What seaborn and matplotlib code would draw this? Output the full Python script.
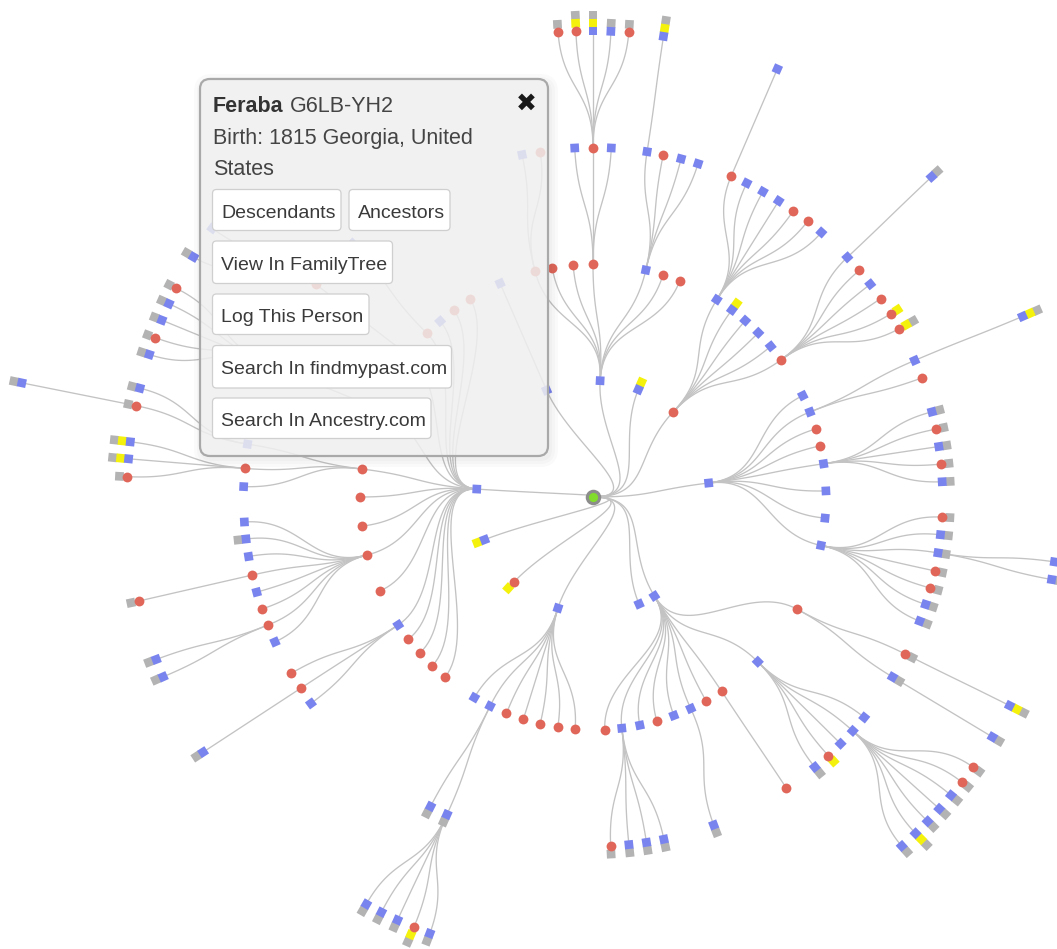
import numpy as np
import pandas as pd
import seaborn as sns
import matplotlib.pyplot as plt
from matplotlib.patches import FancyBboxPatch

# descendants tree, one entry per family (parent -> its children)
# angle: degrees clockwise from east as seen on screen, sex: m/f,
# stub: extra small boxes drawn outward from a node (g = gray, y = yellow, - = none)
fam_parent = ["r", "A", "A1", "A4", "A4b", "A5", "A5a",
              "B", "B1", "B1a", "B6", "B6a",
              "C", "C2", "C2a", "C5", "C8", "C8c",
              "D", "D2", "D6", "D8", "D9", "D9b", "D10", "D10a", "D10b",
              "E", "E2", "E2b",
              "G", "G1", "G1a", "G1a2", "G1b", "Gh1", "Gh1a", "Gh2", "Gh2a", "G11",
              "G4", "G4d", "G4g", "G6", "G6b", "H"]
fam_kids = ["A . B C D . E . . G H", "A1 . . A4 A5 . .", ". .", ". A4b .", ". . . . .", "A5a . . .", ".",
            "B1 . . . . B6", "B1a . . . . . .", ".", "B6a . . . . .", ".",
            ". C2 . . C5 . . C8", "C2a .", ".", ". . . . .", ". . C8c . . . .", ". .",
            ". D2 . . . D6 . D8 D9 D10", ". . . .", ".", ".", ". D9b . . .", ". . . . . . .",
            "D10a D10b", ".", ".",
            ". E2 . . . . .", ". E2b", ". . . . .",
            "G1 . . G4 . G6 . . . . Gh1 Gh2 G11 . . .", "G1a G1b .", ". G1a2", ".", ". . .",
            "Gh1a", ". . . . .", "Gh2a", ". .", ".",
            ". . . G4d . . G4g .", ".", ". .", ". G6b .", ".", "."]
fam_angle = [[-86.5, -67.1, -46.7, -6.9, 58.2, 66.7, 107.5, 132.9, 158.5, -176.1, -113.5],
             [-104.4, -100.1, -94.9, -90.0, -76.9, -72.5, -68.1], [-101.7, -98.7],
             [-93.0, -90.0, -87.0], [-94.3, -92.1, -90.0, -87.8, -85.6],
             [-81.1, -78.4, -75.4, -72.5], [-81.3],
             [-57.9, -53.4, -49.2, -44.8, -40.3, -36.1],
             [-66.7, -63.9, -60.9, -57.9, -55.0, -52.1, -49.2], [-66.7],
             [-43.3, -40.4, -37.5, -34.6, -31.6, -28.8], [-43.4],
             [-25.8, -21.4, -17.0, -12.7, -8.2, -1.5, 5.2, 12.0], [-23.0, -19.9], [-22.8],
             [-14.1, -11.2, -8.3, -5.4, -2.5], [3.3, 6.2, 9.2, 12.2, 15.1, 17.9, 20.8], [8.0, 10.2],
             [87.1, 82.9, 78.4, 74.1, 69.7, 65.2, 61.0, 56.5, 45.0, 28.8],
             [87.1, 84.1, 81.2, 78.3], [69.8], [56.4], [39.1, 42.0, 44.9, 47.7, 50.6],
             [35.4, 37.7, 39.8, 42.0, 44.1, 46.2, 48.5], [26.7, 31.0], [26.6], [31.0],
             [120.6, 116.2, 111.8, 107.4, 103.1, 98.7, 94.4], [117.7, 114.7],
             [119.1, 117.0, 114.8, 112.6, 110.5],
             [-173.1, 180.0, 172.8, 165.6, 156.2, 146.7, 142.4, 138.0, 133.6, 129.4,
              -157.7, -142.5, -135.4, -131.0, -126.7, -121.8],
             [-171.3, -175.3, -178.3], [-166.5, -168.7], [-168.7], [-173.2, -175.3, -177.5],
             [-157.7], [-153.4, -155.5, -157.7, -160.0, -162.2], [-142.5], [-149.0, -144.8], [-133.5],
             [175.9, 173.1, 170.2, 167.1, 164.2, 161.3, 158.5, 155.5], [167.1], [159.6, 157.3],
             [149.7, 146.8, 143.8], [146.8], [-113.5]]
fam_sex = ["mmfmmmmfmmm", "ffffmff", "mf", "mfm", "ffmmf", "mfmm", "m",
           "mmmmmf", "fmmmffm", "m", "mfmfff", "m",
           "mmffmmmm", "mf", "m", "mfmfm", "fmmffmm", "mm",
           "fmmfmmffmf", "fmmm", "m", "f", "mmmfm", "ffmmmmm", "fm", "m", "m",
           "mmfffff", "mm", "mmmfm",
           "fffffmffffmmfmff", "mfm", "mf", "m", "mmf", "m", "fmmfm", "f", "mm", "m",
           "mmmfmffm", "f", "mm", "ffm", "m", "m"]
fam_stub = ["- y - - - - - y y - -", "- - - - - - -", "- -", "- - -", "g yg yg g g", "- - - -", "yg",
            "- y - - - -", "- - - - - - -", "-", "- - - - y yg", "g",
            "- - - - - - - -", "- -", "yg", "g g g g g", "g g g g g g g", "g g",
            "- - - - - - - - - -", "g g g g", "g", "-", "- - - y g", "g g g g g yg g",
            "g g", "yg", "g",
            "- - - - - - -", "g g", "g g g yg g",
            "- - - - - - - - - - - - - - - -", "- - -", "g g", "g", "yg yg g",
            "-", "g g g g g", "-", "g -", "-",
            "- g - - - - - -", "g", "g g", "- - -", "g", "-"]

popup_name = "Feraba"
popup_id = "G6LB-YH2"
popup_lines = ["Birth: 1815 Georgia, United", "States"]
popup_buttons = ["Descendants", "Ancestors", "View In FamilyTree", "Log This Person",
                 "Search In findmypast.com", "Search In Ancestry.com"]

W, H = 1057, 949
CX, CY, STEP = 593, 497, 116.5   # root position and ring spacing in px
BLUE, RED, GRAY, YELLOW = "#7a84ee", "#e0665a", "#b3b3b3", "#f4f20c"

sns.set_theme(style="white")
plt.rcParams["font.family"] = ["Liberation Sans", "DejaVu Sans"]


def polar(a, r):
    t = np.deg2rad(a)
    return CX + r * np.cos(t), CY + r * np.sin(t)


# build node table
gen = {"r": 0}
ang = {"r": 0.0}
rows = []
for parent, kids, angs, sexes, stubs in zip(fam_parent, fam_kids, fam_angle, fam_sex, fam_stub):
    kids = kids.split()
    stubs = stubs.split()
    assert len(kids) == len(angs) == len(sexes) == len(stubs), parent
    g = gen[parent] + 1
    for k, a, s, st in zip(kids, angs, sexes, stubs):
        if k != ".":
            gen[k] = g
            ang[k] = a
        rows.append({"parent": parent, "angle": a, "gen": g, "sex": s, "stub": st.strip("-")})
nodes = pd.DataFrame(rows)
nodes["r"] = nodes["gen"] * STEP
nodes["x"], nodes["y"] = polar(nodes["angle"], nodes["r"])
rot = (((45 - nodes["angle"]) % 90) / 3).round().astype(int) * 3 % 90
nodes["mk"] = np.where(nodes["sex"] == "f", "c", "s" + rot.astype(str))

# radial links (cubic bezier, like d3.linkRadial)
t = np.linspace(0, 1, 40)[:, None]
parts = []
for i, n in nodes.iterrows():
    a0, r0 = ang[n["parent"]], gen[n["parent"]] * STEP
    rm = (r0 + n["r"]) / 2
    P = [np.array(polar(a0, r0)), np.array(polar(a0, rm)),
         np.array(polar(n["angle"], rm)), np.array(polar(n["angle"], n["r"]))]
    B = (1 - t) ** 3 * P[0] + 3 * (1 - t) ** 2 * t * P[1] + 3 * (1 - t) * t ** 2 * P[2] + t ** 3 * P[3]
    parts.append(pd.DataFrame({"x": B[:, 0], "y": B[:, 1], "link": i}))
links = pd.concat(parts, ignore_index=True)

# stub boxes pushed outward along the radius
srows = []
for i, n in nodes.iterrows():
    for j, c in enumerate(n["stub"]):
        sx, sy = polar(n["angle"], n["r"] + 8 * (j + 1))
        srows.append({"x": sx, "y": sy, "col": c, "order": j, "mk": "s" + str(rot[i])})
stubs_df = pd.DataFrame(srows).sort_values("order", ascending=False)

markers = {"s%d" % d: (4, 0, d) for d in range(0, 90, 3)}
markers["c"] = "o"

fig = plt.figure(figsize=(W / 100, H / 100), dpi=100)
ax = fig.add_axes([0, 0, 1, 1])

sns.lineplot(data=links, x="x", y="y", units="link", estimator=None, sort=False,
             color="#c3c3c3", lw=0.95, ax=ax, zorder=1, legend=False)

sns.scatterplot(data=stubs_df, x="x", y="y", hue="col", palette={"g": GRAY, "y": YELLOW},
                style="mk", markers=markers, s=78, linewidth=0, legend=False, ax=ax, zorder=3)

sq = nodes[nodes["sex"] == "m"]
sns.scatterplot(data=sq, x="x", y="y", color=BLUE, style="mk", markers=markers,
                s=78, linewidth=0, legend=False, ax=ax, zorder=4)
ci = nodes[nodes["sex"] == "f"]
sns.scatterplot(data=ci, x="x", y="y", color=RED, s=50, linewidth=0, legend=False, ax=ax, zorder=4)

# root person
ax.scatter([CX], [CY], s=125, color="#8c8c8c", linewidth=0, zorder=5)
ax.scatter([CX], [CY], s=44, color="#82dc2c", linewidth=0, zorder=6)

# info popup
for k, pad in enumerate([8, 5, 2]):
    ax.add_patch(FancyBboxPatch((200 - pad + 2, 79 - pad + 3), 348 + 2 * pad, 377 + 2 * pad,
                                boxstyle="round,pad=0,rounding_size=%d" % (10 + pad),
                                fc=(0, 0, 0, 0.02), ec="none", zorder=9))
ax.add_patch(FancyBboxPatch((200, 79), 348, 377, boxstyle="round,pad=0,rounding_size=10",
                            fc=(0.95, 0.95, 0.95, 0.84), ec="#a9a9a9", lw=1.6, zorder=10))

ax.text(213, 112, popup_name, fontsize=15.5, fontweight="bold", color="#333333", zorder=12)
ax.text(290, 112, popup_id, fontsize=15.5, color="#444444", zorder=12)
for k, line in enumerate(popup_lines):
    ax.text(213, 143.5 + 31.5 * k, line, fontsize=15.5, color="#444444", zorder=12)
ax.text(526, 104, "\u2716", fontsize=18, color="#1a1a1a", ha="center", va="center",
        family=["DejaVu Sans"], zorder=12)

btn_box = [(212.5, 189.5, 128.5, 41), (349, 189.5, 101, 41), (212.5, 241, 180, 42.5),
           (212.5, 294, 156.5, 40.5), (212.5, 345.5, 239, 42.5), (212.5, 398, 218.5, 40.5)]
for label, (bx, by, bw, bh) in zip(popup_buttons, btn_box):
    ax.add_patch(FancyBboxPatch((bx, by), bw, bh, boxstyle="round,pad=0,rounding_size=4",
                                fc="white", ec="#cfcfcf", lw=0.9, zorder=11))
    ax.text(bx + 8.5, by + bh / 2 + 7.5, label, fontsize=14, color="#3a3a3a", zorder=12)

ax.set_xlim(0, W)
ax.set_ylim(H, 0)
ax.axis("off")
fig.savefig("out.png", dpi=100)
